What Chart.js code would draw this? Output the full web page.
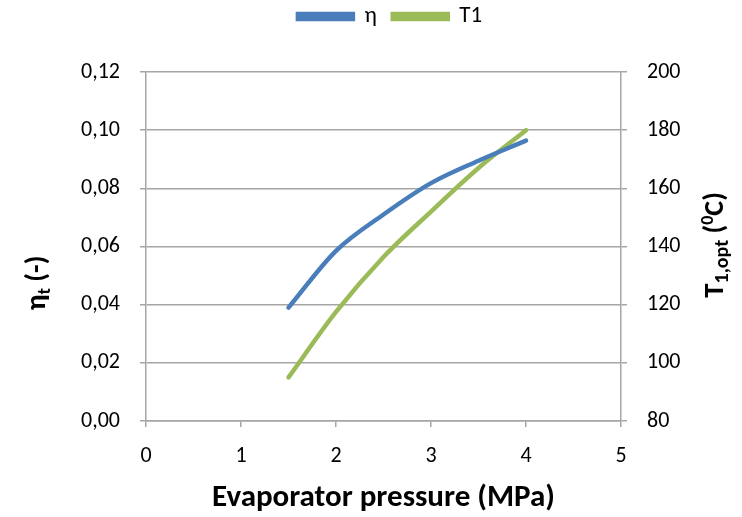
<!DOCTYPE html>
<html>
<head>
<meta charset="utf-8">
<script src="https://cdn.jsdelivr.net/npm/chart.js@4/dist/chart.umd.min.js"></script>
<style>
  html, body { margin: 0; padding: 0; background: #fff; }
  #wrap { width: 742px; height: 517px; }
</style>
</head>
<body>
<div id="wrap"><canvas id="chart"></canvas></div>
<script>
// evaporator pressure (MPa)
const pressure = [1.5, 2.0, 2.5, 3.0, 3.5, 4.0];
// thermal efficiency (-)
const eta = [0.039, 0.0585, 0.071, 0.0818, 0.0895, 0.0964];
// optimum turbine inlet temperature (°C)
const t1 = [95, 117.5, 136.4, 152, 167, 180];

const xTicks = [0, 1, 2, 3, 4, 5];
const leftTicks = [0, 0.02, 0.04, 0.06, 0.08, 0.10, 0.12];
const rightTicks = [80, 100, 120, 140, 160, 180, 200];

const FONT = 'Carlito, Calibri, "Open Sans", sans-serif';
const GRID = "#a6a6a6";
const TXT = "#000";

const pts = (ys) => pressure.map((x, i) => ({ x: x, y: ys[i] }));

// axis titles with sub/superscripts, drawn on the canvas
function richText(ctx, parts, cx, cy, rotate) {
  ctx.save();
  ctx.translate(cx, cy);
  if (rotate) ctx.rotate(-Math.PI / 2);
  let total = 0;
  parts.forEach(p => {
    ctx.font = "bold " + p.size + "px " + FONT;
    p.w = ctx.measureText(p.t).width;
    total += p.w;
  });
  let x = -total / 2;
  ctx.fillStyle = TXT;
  ctx.textBaseline = "middle";
  ctx.textAlign = "left";
  parts.forEach(p => {
    ctx.font = "bold " + p.size + "px " + FONT;
    ctx.fillText(p.t, x, p.dy || 0);
    x += p.w;
  });
  ctx.restore();
}

const titles = {
  id: "titles",
  afterInit(chart) {
    // leave room between the legend and the plot, nudge the legend up/right
    const lg = chart.legend;
    const fit = lg.fit.bind(lg);
    lg.fit = function () { fit(); this.height = 72; };
    const draw = lg.draw.bind(lg);
    lg.draw = function () {
      const c = this.ctx;
      c.save();
      c.translate(19, -11);
      draw();
      c.restore();
    };
  },
  afterDraw(chart) {
    const ctx = chart.ctx;
    const a = chart.chartArea;
    richText(ctx, [
      { t: "η", size: 29 },
      { t: "t", size: 19, dy: 7 },
      { t: " (-)", size: 28 }
    ], 38, 283, true);
    richText(ctx, [
      { t: "T", size: 29 },
      { t: "1,opt", size: 20, dy: 7 },
      { t: " (", size: 28 },
      { t: "0", size: 18, dy: -8 },
      { t: "C)", size: 28 }
    ], 716, 245, true);
    richText(ctx, [
      { t: "Evaporator pressure (MPa)", size: 31 }
    ], (a.left + a.right) / 2, 498, false);
  }
};

new Chart(document.getElementById("chart"), {
  type: "line",
  data: {
    datasets: [
      {
        label: "η",
        data: pts(eta),
        yAxisID: "y",
        borderColor: "#4a7ebb",
        backgroundColor: "#4a7ebb",
        borderWidth: 4.5,
        pointRadius: 0,
        cubicInterpolationMode: "monotone",
        borderCapStyle: "round"
      },
      {
        label: "T1",
        data: pts(t1),
        yAxisID: "y1",
        borderColor: "#9bbb59",
        backgroundColor: "#9bbb59",
        borderWidth: 4.5,
        pointRadius: 0,
        cubicInterpolationMode: "monotone",
        borderCapStyle: "round"
      }
    ]
  },
  options: {
    responsive: true,
    maintainAspectRatio: false,
    animation: false,
    layout: { padding: 0 },
    plugins: {
      tooltip: { enabled: false },
      legend: {
        position: "top",
        labels: {
          color: TXT,
          font: { family: FONT, size: 23 },
          boxWidth: 55,
          boxHeight: 5,
          padding: 16
        }
      }
    },
    scales: {
      x: {
        type: "linear",
        min: 0,
        max: 5,
        afterBuildTicks: s => { s.ticks = xTicks.map(v => ({ value: v })); },
        afterFit: s => { s.height = 96; },
        grid: { drawOnChartArea: false, drawTicks: true, tickLength: 6, color: GRID, lineWidth: 1.5 },
        border: { color: GRID, width: 1.5 },
        ticks: { color: TXT, font: { family: FONT, size: 22 }, padding: 16 }
      },
      y: {
        position: "left",
        min: 0,
        max: 0.12,
        afterBuildTicks: s => { s.ticks = leftTicks.map(v => ({ value: v })); },
        afterFit: s => { s.width = 146; },
        grid: { color: GRID, lineWidth: 1.5, tickLength: 6 },
        border: { color: GRID, width: 1.5 },
        ticks: {
          color: TXT,
          font: { family: FONT, size: 22 },
          padding: 20,
          callback: v => v.toFixed(2).replace(".", ",")
        }
      },
      y1: {
        position: "right",
        min: 80,
        max: 200,
        afterBuildTicks: s => { s.ticks = rightTicks.map(v => ({ value: v })); },
        afterFit: s => { s.width = 121; },
        grid: { drawOnChartArea: false, color: GRID, lineWidth: 1.5, tickLength: 6 },
        border: { color: GRID, width: 1.5 },
        ticks: { color: TXT, font: { family: FONT, size: 22 }, padding: 20 }
      }
    }
  },
  plugins: [titles]
});
</script>
</body>
</html>
